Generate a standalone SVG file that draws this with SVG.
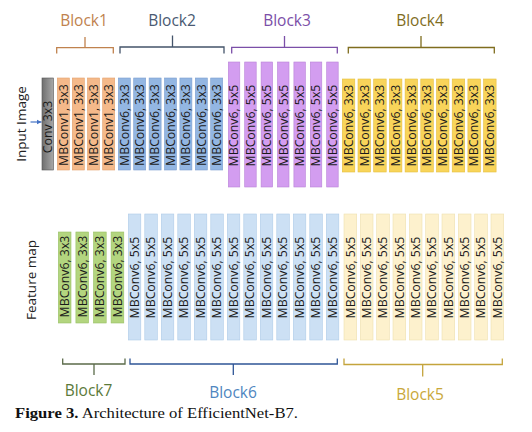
<svg xmlns="http://www.w3.org/2000/svg" width="532" height="432" viewBox="0 0 532 432">
<defs>
<linearGradient id="gconv" x1="0" y1="0" x2="1" y2="0">
<stop offset="0" stop-color="#6f6f6f"/><stop offset="1" stop-color="#a8a8a8"/>
</linearGradient>
<marker id="ah" markerWidth="6" markerHeight="6" refX="5" refY="3" orient="auto" markerUnits="userSpaceOnUse">
<path d="M0,0.5 L5,3 L0,5.5 Z" fill="#4472c4"/>
</marker>
</defs>
<style>
.t{font-family:"Open Sans","Liberation Sans",sans-serif;font-size:12.3px;fill:#1a1a1a;text-anchor:middle}
.lb{font-family:"Open Sans","Liberation Sans",sans-serif;font-size:15.5px;text-anchor:middle}
.side{font-family:"Open Sans","Liberation Sans",sans-serif;font-size:13.5px;fill:#222;text-anchor:middle}
.br{fill:none;stroke-width:1.3}
.b1{fill:#f4b98a;stroke:#e3a06b;stroke-width:0.6}
.b2{fill:#93b6e2;stroke:#7c9fd0;stroke-width:0.6}
.b3{fill:#d39df0;stroke:#b882d8;stroke-width:0.6}
.b4{fill:#f8d45a;stroke:#e5bf3e;stroke-width:0.6}
.b5{fill:#fdf1cd;stroke:#efe0b0;stroke-width:0.6}
.b6{fill:#cce0f4;stroke:#aecbe8;stroke-width:0.6}
.b7{fill:#b3d57f;stroke:#98c065;stroke-width:0.6}
</style>
<rect width="532" height="432" fill="#fff"/>

<text class="side" transform="translate(26,124) rotate(-90)">Input Image</text>
<text class="side" transform="translate(35.5,280) rotate(-90)">Feature map</text>

<g id="connectors">
<line x1="30.5" y1="122" x2="41.5" y2="122" stroke="#4472c4" stroke-width="1.2" marker-end="url(#ah)"/>
</g>

<g id="conv">
<rect x="42" y="78" width="11.5" height="92" fill="url(#gconv)" stroke="#555" stroke-width="0.6"/>
<text class="t" transform="translate(52,127) rotate(-90)">Conv 3x3</text>
</g>

<g id="block1">
<path class="br" stroke="#c0824e" d="M56.7,53.5 V47.7 H113.3 V53.5 M85,47.7 V37"/>
<text class="lb" x="84" y="25.5" fill="#c0824e">Block1</text>
<rect class="b1" x="57.3" y="78" width="12" height="92"/>
<rect class="b1" x="72.3" y="78" width="12" height="92"/>
<rect class="b1" x="87.5" y="78" width="12" height="92"/>
<rect class="b1" x="102.7" y="78" width="12" height="92"/>
<text class="t" transform="translate(67.6,125) rotate(-90)">MBConv1, 3x3</text>
<text class="t" transform="translate(82.6,125) rotate(-90)">MBConv1, 3x3</text>
<text class="t" transform="translate(97.8,125) rotate(-90)">MBConv1, 3x3</text>
<text class="t" transform="translate(113,125) rotate(-90)">MBConv1, 3x3</text>
</g>

<g id="block2">
<path class="br" stroke="#44546a" d="M120,53.5 V47 H224 V53.5 M172.5,47 V35.5"/>
<text class="lb" x="172" y="25.5" fill="#4a5a72">Block2</text>
<rect class="b2" x="118.3" y="78" width="12" height="92"/>
<rect class="b2" x="133.7" y="78" width="12" height="92"/>
<rect class="b2" x="149.1" y="78" width="12" height="92"/>
<rect class="b2" x="164.5" y="78" width="12" height="92"/>
<rect class="b2" x="179.9" y="78" width="12" height="92"/>
<rect class="b2" x="195.3" y="78" width="12" height="92"/>
<rect class="b2" x="210.7" y="78" width="12" height="92"/>
<text class="t" transform="translate(128.6,125) rotate(-90)">MBConv6, 3x3</text>
<text class="t" transform="translate(144,125) rotate(-90)">MBConv6, 3x3</text>
<text class="t" transform="translate(159.4,125) rotate(-90)">MBConv6, 3x3</text>
<text class="t" transform="translate(174.8,125) rotate(-90)">MBConv6, 3x3</text>
<text class="t" transform="translate(190.2,125) rotate(-90)">MBConv6, 3x3</text>
<text class="t" transform="translate(205.6,125) rotate(-90)">MBConv6, 3x3</text>
<text class="t" transform="translate(221,125) rotate(-90)">MBConv6, 3x3</text>
</g>

<g id="block3">
<path class="br" stroke="#7b4fa8" d="M231.7,53.5 V47.3 H337.3 V53.5 M284.5,47.3 V36"/>
<text class="lb" x="287" y="25.5" fill="#7b4fa8">Block3</text>
<rect class="b3" x="228.3" y="62" width="11.5" height="125"/>
<rect class="b3" x="244.7" y="62" width="11.5" height="125"/>
<rect class="b3" x="261.1" y="62" width="11.5" height="125"/>
<rect class="b3" x="277.5" y="62" width="11.5" height="125"/>
<rect class="b3" x="293.9" y="62" width="11.5" height="125"/>
<rect class="b3" x="310.3" y="62" width="11.5" height="125"/>
<rect class="b3" x="326.7" y="62" width="11.5" height="125"/>
<text class="t" transform="translate(238.4,125.5) rotate(-90)">MBConv6, 5x5</text>
<text class="t" transform="translate(254.8,125.5) rotate(-90)">MBConv6, 5x5</text>
<text class="t" transform="translate(271.2,125.5) rotate(-90)">MBConv6, 5x5</text>
<text class="t" transform="translate(287.6,125.5) rotate(-90)">MBConv6, 5x5</text>
<text class="t" transform="translate(304,125.5) rotate(-90)">MBConv6, 5x5</text>
<text class="t" transform="translate(320.4,125.5) rotate(-90)">MBConv6, 5x5</text>
<text class="t" transform="translate(336.8,125.5) rotate(-90)">MBConv6, 5x5</text>
</g>

<g id="block4">
<path class="br" stroke="#7f6d1e" d="M348.3,53.5 V47.5 H494.3 V53.5 M421,47.5 V36"/>
<text class="lb" x="420" y="25.5" fill="#7f6d1e">Block4</text>
<rect class="b4" x="342.3" y="79" width="12.5" height="93"/>
<rect class="b4" x="358" y="79" width="12.5" height="93"/>
<rect class="b4" x="373.7" y="79" width="12.5" height="93"/>
<rect class="b4" x="389.4" y="79" width="12.5" height="93"/>
<rect class="b4" x="405.1" y="79" width="12.5" height="93"/>
<rect class="b4" x="420.8" y="79" width="12.5" height="93"/>
<rect class="b4" x="436.5" y="79" width="12.5" height="93"/>
<rect class="b4" x="452.2" y="79" width="12.5" height="93"/>
<rect class="b4" x="467.9" y="79" width="12.5" height="93"/>
<rect class="b4" x="483.6" y="79" width="12.5" height="93"/>
<text class="t" transform="translate(352.8,125.5) rotate(-90)">MBConv6, 3x3</text>
<text class="t" transform="translate(368.5,125.5) rotate(-90)">MBConv6, 3x3</text>
<text class="t" transform="translate(384.2,125.5) rotate(-90)">MBConv6, 3x3</text>
<text class="t" transform="translate(399.9,125.5) rotate(-90)">MBConv6, 3x3</text>
<text class="t" transform="translate(415.6,125.5) rotate(-90)">MBConv6, 3x3</text>
<text class="t" transform="translate(431.3,125.5) rotate(-90)">MBConv6, 3x3</text>
<text class="t" transform="translate(447,125.5) rotate(-90)">MBConv6, 3x3</text>
<text class="t" transform="translate(462.7,125.5) rotate(-90)">MBConv6, 3x3</text>
<text class="t" transform="translate(478.4,125.5) rotate(-90)">MBConv6, 3x3</text>
<text class="t" transform="translate(494.1,125.5) rotate(-90)">MBConv6, 3x3</text>
</g>

<g id="block7">
<path class="br" stroke="#5b6b4a" d="M62.7,358.5 V364 H125 V358.5 M94,364 V375"/>
<text class="lb" x="88.5" y="395.5" fill="#5b7a3a">Block7</text>
<rect class="b7" x="58.3" y="232" width="12.7" height="91"/>
<rect class="b7" x="75.9" y="232" width="12.7" height="91"/>
<rect class="b7" x="93.5" y="232" width="12.7" height="91"/>
<rect class="b7" x="111.1" y="232" width="12.7" height="91"/>
<text class="t" transform="translate(68.9,276.5) rotate(-90)">MBConv6, 3x3</text>
<text class="t" transform="translate(86.5,276.5) rotate(-90)">MBConv6, 3x3</text>
<text class="t" transform="translate(104.1,276.5) rotate(-90)">MBConv6, 3x3</text>
<text class="t" transform="translate(121.7,276.5) rotate(-90)">MBConv6, 3x3</text>
</g>

<g id="block6">
<path class="br" stroke="#2f5597" d="M130,358.5 V364 H337.3 V358.5 M233.3,364 V375"/>
<text class="lb" x="233" y="398" fill="#4f86c0">Block6</text>
<rect class="b6" x="128.3" y="214" width="12.5" height="126"/>
<rect class="b6" x="144.8" y="214" width="12.5" height="126"/>
<rect class="b6" x="161.3" y="214" width="12.5" height="126"/>
<rect class="b6" x="177.8" y="214" width="12.5" height="126"/>
<rect class="b6" x="194.3" y="214" width="12.5" height="126"/>
<rect class="b6" x="210.8" y="214" width="12.5" height="126"/>
<rect class="b6" x="227.3" y="214" width="12.5" height="126"/>
<rect class="b6" x="243.8" y="214" width="12.5" height="126"/>
<rect class="b6" x="260.3" y="214" width="12.5" height="126"/>
<rect class="b6" x="276.8" y="214" width="12.5" height="126"/>
<rect class="b6" x="293.3" y="214" width="12.5" height="126"/>
<rect class="b6" x="309.8" y="214" width="12.5" height="126"/>
<rect class="b6" x="326.3" y="214" width="12.5" height="126"/>
<text class="t" transform="translate(138.8,277.5) rotate(-90)">MBConv6, 5x5</text>
<text class="t" transform="translate(155.3,277.5) rotate(-90)">MBConv6, 5x5</text>
<text class="t" transform="translate(171.8,277.5) rotate(-90)">MBConv6, 5x5</text>
<text class="t" transform="translate(188.3,277.5) rotate(-90)">MBConv6, 5x5</text>
<text class="t" transform="translate(204.8,277.5) rotate(-90)">MBConv6, 5x5</text>
<text class="t" transform="translate(221.3,277.5) rotate(-90)">MBConv6, 5x5</text>
<text class="t" transform="translate(237.8,277.5) rotate(-90)">MBConv6, 5x5</text>
<text class="t" transform="translate(254.3,277.5) rotate(-90)">MBConv6, 5x5</text>
<text class="t" transform="translate(270.8,277.5) rotate(-90)">MBConv6, 5x5</text>
<text class="t" transform="translate(287.3,277.5) rotate(-90)">MBConv6, 5x5</text>
<text class="t" transform="translate(303.8,277.5) rotate(-90)">MBConv6, 5x5</text>
<text class="t" transform="translate(320.3,277.5) rotate(-90)">MBConv6, 5x5</text>
<text class="t" transform="translate(336.8,277.5) rotate(-90)">MBConv6, 5x5</text>
</g>

<g id="block5">
<path class="br" stroke="#c4a43c" d="M344,358.5 V364.5 H502.3 V358.5 M422.7,364.5 V376.5"/>
<text class="lb" x="420" y="400" fill="#c9a83a">Block5</text>
<rect class="b5" x="344" y="214" width="12.7" height="126"/>
<rect class="b5" x="360.3" y="214" width="12.7" height="126"/>
<rect class="b5" x="376.7" y="214" width="12.7" height="126"/>
<rect class="b5" x="393" y="214" width="12.7" height="126"/>
<rect class="b5" x="409.3" y="214" width="12.7" height="126"/>
<rect class="b5" x="425.7" y="214" width="12.7" height="126"/>
<rect class="b5" x="442" y="214" width="12.7" height="126"/>
<rect class="b5" x="458.3" y="214" width="12.7" height="126"/>
<rect class="b5" x="474.7" y="214" width="12.7" height="126"/>
<rect class="b5" x="491" y="214" width="12.7" height="126"/>
<text class="t" transform="translate(354.6,277.5) rotate(-90)">MBConv6, 5x5</text>
<text class="t" transform="translate(370.9,277.5) rotate(-90)">MBConv6, 5x5</text>
<text class="t" transform="translate(387.3,277.5) rotate(-90)">MBConv6, 5x5</text>
<text class="t" transform="translate(403.6,277.5) rotate(-90)">MBConv6, 5x5</text>
<text class="t" transform="translate(419.9,277.5) rotate(-90)">MBConv6, 5x5</text>
<text class="t" transform="translate(436.3,277.5) rotate(-90)">MBConv6, 5x5</text>
<text class="t" transform="translate(452.6,277.5) rotate(-90)">MBConv6, 5x5</text>
<text class="t" transform="translate(468.9,277.5) rotate(-90)">MBConv6, 5x5</text>
<text class="t" transform="translate(485.3,277.5) rotate(-90)">MBConv6, 5x5</text>
<text class="t" transform="translate(501.6,277.5) rotate(-90)">MBConv6, 5x5</text>
</g>

<text x="15" y="418" font-family="'Liberation Serif','Times New Roman',serif" font-size="15" fill="#111" textLength="283" lengthAdjust="spacingAndGlyphs"><tspan font-weight="bold">Figure 3.</tspan> Architecture of EfficientNet-B7.</text>
</svg>
